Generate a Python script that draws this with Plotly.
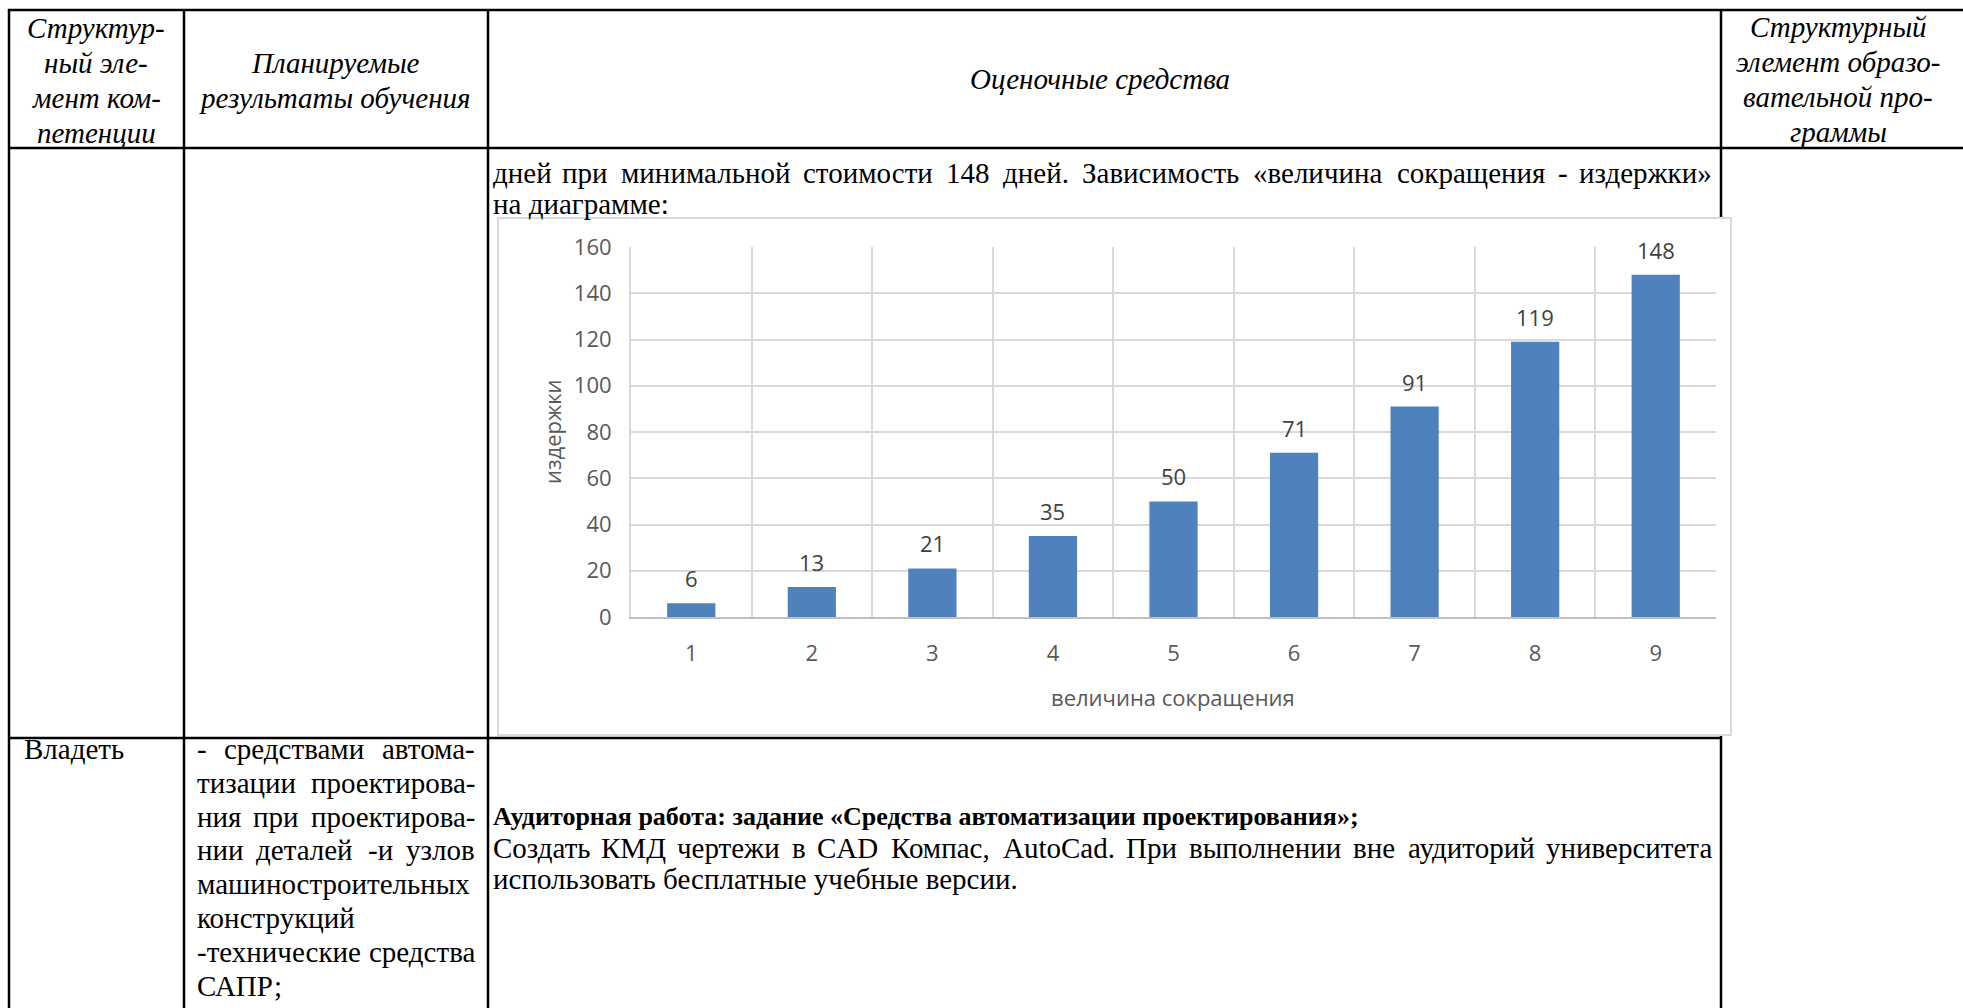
import plotly.graph_objects as go

W_PX, H_PX = 1963, 1008

# chart data
categories = ["1", "2", "3", "4", "5", "6", "7", "8", "9"]
costs = [6, 13, 21, 35, 50, 71, 91, 119, 148]
y_ticks = [0, 20, 40, 60, 80, 100, 120, 140, 160]
x_title = "величина сокращения"
y_title = "издержки"

# table texts
head_competence = ["Структур-", "ный эле-", "мент ком-", "петенции"]
head_results = ["Планируемые", "результаты обучения"]
head_tools = ["Оценочные средства"]
head_program = ["Структурный", "элемент образо-", "вательной про-", "граммы"]

intro_lines = [
    "дней при минимальной стоимости 148 дней. Зависимость «величина сокращения - издержки»",
    "на диаграмме:",
]

own_label = "Владеть"
own_results = [
    "- средствами автома-",
    "тизации проектирова-",
    "ния при проектирова-",
    "нии деталей -и узлов",
    "машиностроительных",
    "конструкций",
    "-технические средства",
    "САПР;",
]
own_task_title = "Аудиторная работа: задание «Средства автоматизации проектирования»;"
own_task = [
    "Создать КМД чертежи в CAD Компас, AutoCad. При выполнении вне аудиторий университета",
    "использовать бесплатные учебные версии.",
]

SERIF = "Liberation Serif"
SANS = "Open Sans"
FS = 29
BAR_COLOUR = "#4F81BD"
GRID = "#D9D9D9"

# rough Times-like advance widths (em) used only to spread words on justified lines
CHAR_W = {
    ' ': 0.25, '.': 0.25, ',': 0.25, ':': 0.278, ';': 0.278, '-': 0.333, '«': 0.5, '»': 0.5,
    'а': 0.444, 'б': 0.5, 'в': 0.472, 'г': 0.41, 'д': 0.49, 'е': 0.444, 'ж': 0.69, 'з': 0.395,
    'и': 0.535, 'й': 0.535, 'к': 0.487, 'л': 0.5, 'м': 0.633, 'н': 0.535, 'о': 0.5, 'п': 0.535,
    'р': 0.5, 'с': 0.444, 'т': 0.437, 'у': 0.5, 'ф': 0.648, 'х': 0.5, 'ц': 0.535, 'ч': 0.503,
    'ш': 0.77, 'щ': 0.77, 'ъ': 0.517, 'ы': 0.672, 'ь': 0.456, 'э': 0.429, 'ю': 0.747, 'я': 0.489,
    'З': 0.56, 'С': 0.667, 'К': 0.67, 'М': 0.89, 'Д': 0.68, 'П': 0.722, 'А': 0.722, 'Р': 0.556,
    'C': 0.667, 'A': 0.722, 'D': 0.722, 'u': 0.5, 't': 0.278, 'o': 0.5, 'a': 0.444, 'd': 0.5,
}


def px(x):
    return x / W_PX


def py(y):
    return 1 - y / H_PX


def word_width(s, size=FS):
    return size * sum(CHAR_W.get(c, 0.5) for c in s)


notes = []
shapes = []


def text(x, y, s, anchor="left", size=FS, family=SERIF, color="black", angle=0):
    notes.append(dict(x=px(x), y=py(y), xref="paper", yref="paper", text=s, showarrow=False,
                      xanchor=anchor, yanchor="middle", textangle=angle,
                      font=dict(family=family, size=size, color=color)))


def justified(line, xl, xr, y):
    words = line.split(" ")
    widths = [word_width(w) for w in words]
    gap = (xr - xl - sum(widths)) / (len(words) - 1)
    x = xl
    for i, (w, ww) in enumerate(zip(words, widths)):
        if i == 0:
            text(xl, y, w, "left")
        elif i == len(words) - 1:
            text(xr, y, w, "right")
        else:
            text(x + ww / 2, y, w, "center")
        x += ww + gap


def hline(y, x0, x1, color="black", w=2.5):
    shapes.append(dict(type="line", xref="paper", yref="paper", x0=px(x0), x1=px(x1),
                       y0=py(y), y1=py(y), line=dict(color=color, width=w), layer="below"))


def vline(x, y0, y1, color="black", w=2.5):
    shapes.append(dict(type="line", xref="paper", yref="paper", x0=px(x), x1=px(x),
                       y0=py(y0), y1=py(y1), line=dict(color=color, width=w), layer="below"))


# table grid
hline(10, 8, W_PX)
hline(148, 8, W_PX)
hline(738, 8, 1721)
vline(9, 9, H_PX)
vline(184, 9, H_PX)
vline(488, 9, H_PX)
vline(1721, 9, H_PX)

# chart frame sits on top of the table lines
shapes.append(dict(type="rect", xref="paper", yref="paper", x0=px(498), x1=px(1731),
                   y0=py(735), y1=py(218), fillcolor="white",
                   line=dict(color=GRID, width=2), layer="below"))

# header row
for i, s in enumerate(head_competence):
    text(96, 28 + 35 * i, "<i>" + s + "</i>", "center")
for i, s in enumerate(head_results):
    text(335, 63 + 35 * i, "<i>" + s + "</i>", "center")
text(1100, 79, "<i>" + head_tools[0] + "</i>", "center")
for i, s in enumerate(head_program):
    text(1838, 27 + 35 * i, "<i>" + s + "</i>", "center")

# second row text above the chart
justified(intro_lines[0], 491, 1714, 173)
text(491, 204, intro_lines[1])

# third row
text(22, 749, own_label)
for i, s in enumerate(own_results):
    y = 749 + 33.8 * i
    if i in (0, 1, 2, 3, 6):
        justified(s, 195, 477, y)
    else:
        text(195, y, s)
text(491, 816, "<b>" + own_task_title + "</b>", size=26)
justified(own_task[0], 491, 1714, 848)
text(491, 879, own_task[1])

# chart axis titles
text(1173, 697, x_title, "center", size=22, family=SANS, color="#595959")
text(552, 432, y_title, "center", size=22, family=SANS, color="#595959", angle=-90)

fig = go.Figure()
fig.add_trace(go.Bar(
    x=categories,
    y=costs,
    marker=dict(color=BAR_COLOUR, line=dict(width=0)),
    hoverinfo="skip",
))

# value labels above bars (category axis positions are indices)
for i, v in enumerate(costs):
    notes.append(dict(x=i, y=v, xref="x", yref="y", text=str(v), showarrow=False,
                      yanchor="bottom", yshift=8,
                      font=dict(family=SANS, size=22, color="#404040")))

tick_font = dict(family=SANS, size=22, color="#595959")
fig.update_layout(
    width=W_PX, height=H_PX,
    margin=dict(l=0, r=0, t=0, b=0),
    paper_bgcolor="white", plot_bgcolor="white",
    showlegend=False, bargap=0.6,
    xaxis=dict(domain=[px(631), px(1716)], type="category", tickson="boundaries",
               showgrid=True, gridcolor=GRID, gridwidth=2,
               showline=True, linecolor="#BFBFBF", linewidth=2,
               ticks="", tickfont=tick_font, ticklabelstandoff=16, automargin=False),
    yaxis=dict(domain=[py(617), py(247)], range=[0, 160], tickvals=y_ticks,
               showgrid=True, gridcolor=GRID, gridwidth=2, zeroline=False,
               showline=True, linecolor=GRID, linewidth=2,
               ticks="", tickfont=tick_font, ticklabelstandoff=13, automargin=False),
    shapes=shapes,
    annotations=notes,
)

fig.write_html("out.html", config={"displayModeBar": False},
               post_script="document.body.style.margin='0';document.body.style.overflow='hidden';")
